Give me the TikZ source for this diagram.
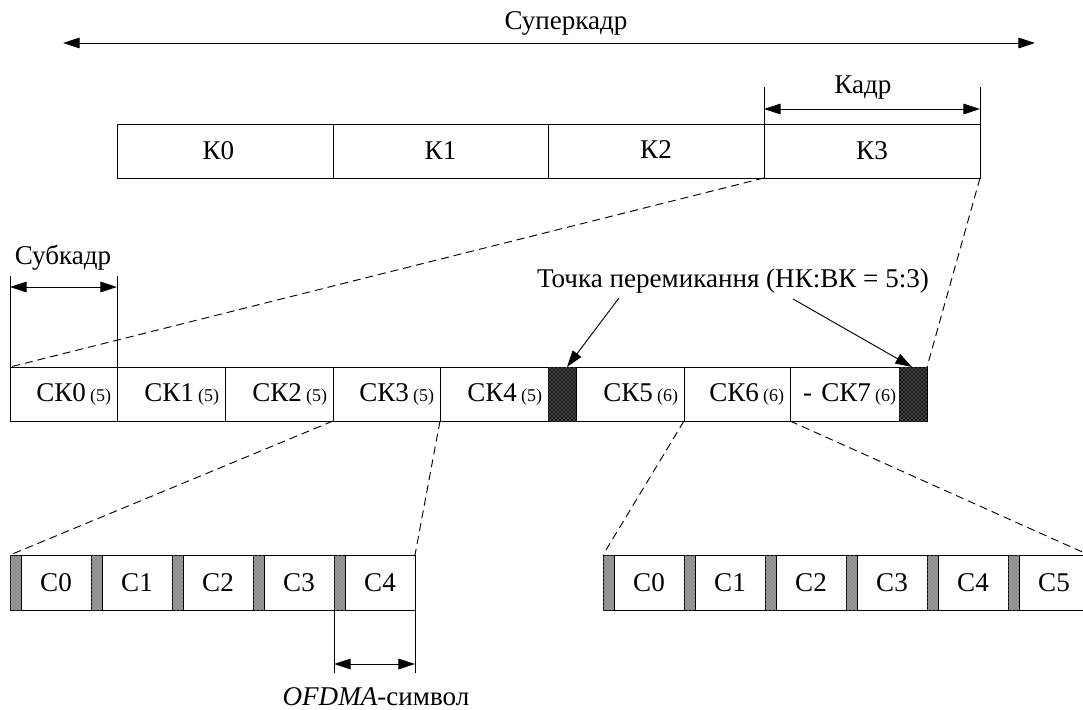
\documentclass[tikz,border=0pt]{standalone}
\usepackage{fontspec}
\setmainfont{Liberation Serif}
\usetikzlibrary{arrows.meta,patterns}
\tikzset{
  lw/.style={line width=0.7pt},
  mainfont/.style={font=\fontsize{20.3}{23}\selectfont},
  cell/.style={draw, line width=0.7pt, inner sep=0pt, outer sep=0pt, anchor=north west, mainfont},
  skcell/.style={cell, minimum height=40.5pt, inner xsep=4.5pt, text width=#1, align=right},
  dk/.style={cell, fill=black!90, postaction={pattern=crosshatch dots, pattern color=white!85!black}},
  lt/.style={cell, fill=black!45, postaction={pattern=crosshatch dots, pattern color=black!20}},
  dim/.style={line width=0.7pt, {Triangle[length=12.5pt,width=8pt]}-{Triangle[length=12.5pt,width=8pt]}},
  ptr/.style={line width=0.7pt, -{Triangle[length=12.5pt,width=8pt]}},
  dsh/.style={line width=0.7pt, dash pattern=on 6pt off 3.75pt},
  lbl/.style={inner sep=0pt, mainfont},
}
\newcommand{\sm}[1]{\hspace{3pt}{\fontsize{13.5}{15}\selectfont#1}}
\begin{document}
\begin{tikzpicture}[x=0.75pt, y=-0.75pt]
\useasboundingbox (0,0) rectangle (1083,710);
\clip (0,0) rectangle (1083,710);

% Superframe
\coordinate (sfL) at (63,43);
\coordinate (sfR) at (1035,43);
\draw[dim] (sfL) -- (sfR);
\node[lbl] (sf) at (566,23) {Суперкадр};

% Frames
\node[cell, minimum width=162pt, minimum height=40.5pt] (k0) at (117,124) {К0\hspace*{10pt}};
\node[cell, minimum width=161.25pt, minimum height=40.5pt] (k1) at (333,124) {К1};
\node[cell, minimum width=162pt, minimum height=40.5pt] (k2) at (548,124) {\raisebox{1.5pt}{К2}};
\node[cell, minimum width=162pt, minimum height=40.5pt] (k3) at (764,124) {К3};

% Frame dimension
\coordinate (kt1) at (764,87);
\coordinate (kt2) at (980,87);
\coordinate (ka1) at (764,109);
\coordinate (ka2) at (980,109);
\draw[lw] (k3.north west) -- (kt1);
\draw[lw] (k3.north east) -- (kt2);
\draw[dim] (ka1) -- (ka2);
\node[lbl] (kadr) at (863,88) {Кадр};

% Subframes
\node[skcell=71.25pt] (sk0) at (10,367) {СК0\sm{(5)}};
\node[skcell=72pt] (sk1) at (117,367) {СК1\sm{(5)}};
\node[skcell=72pt] (sk2) at (225,367) {СК2\sm{(5)}};
\node[skcell=71.25pt] (sk3) at (333,367) {СК3\sm{(5)}};
\node[skcell=72pt] (sk4) at (440,367) {СК4\sm{(5)}};
\node[dk, minimum width=21pt, minimum height=40.5pt] (d1) at (548,367) {};
\node[skcell=72pt] (sk5) at (576,367) {СК5\sm{(6)}};
\node[skcell=70.5pt] (sk6) at (684,367) {СК6\sm{(6)}};
\node[skcell=77.25pt, inner xsep=2.25pt] (sk7) at (790,367) {-\hspace{7pt}СК7\sm{(6)}};
\node[dk, minimum width=21pt, minimum height=40.5pt] (d2) at (899,367) {};

% Subframe dimension
\coordinate (st1) at (10,276);
\coordinate (st2) at (117,276);
\coordinate (sa1) at (10,287);
\coordinate (sa2) at (117,287);
\draw[lw] (sk0.north west) -- (st1);
\draw[lw] (sk0.north east) -- (st2);
\draw[dim] (sa1) -- (sa2);
\node[lbl] (subk) at (63,258) {Субкадр};

% Switching point
\node[lbl] (sw) at (733,281) {Точка перемикання (НК:ВК = 5:3)};
\coordinate (sw1) at (619,298);
\coordinate (sw2) at (793,299);
\coordinate (tip1) at (567,367);
\coordinate (tip2) at (912,367);
\draw[ptr] (sw1) -- (tip1);
\draw[ptr] (sw2) -- (tip2);

% Symbols, left
\foreach \i in {0,...,4}{
  \node[lt, minimum width=8.25pt, minimum height=41.25pt] (bld\i) at ({10+81*\i},555) {};
  \node[cell, minimum width=52.5pt, minimum height=41.25pt] (blc\i) at ({21+81*\i},555) {С\i};
}
% Symbols, right
\foreach \i in {0,...,5}{
  \node[lt, minimum width=8.25pt, minimum height=41.25pt] (brd\i) at ({603+81*\i},555) {};
  \node[cell, minimum width=52.5pt, minimum height=41.25pt] (brc\i) at ({614+81*\i},555) {С\i};
}

% Zoom lines
\draw[dsh] (k3.south west) -- (sk0.north west);
\draw[dsh] (k3.south east) -- (d2.north east);
\draw[dsh] (sk3.south west) -- (bld0.north west);
\draw[dsh] (sk3.south east) -- (blc4.north east);
\draw[dsh] (sk6.south west) -- (brd0.north west);
\draw[dsh] (sk6.south east) -- (brc5.north east);

% OFDMA symbol dimension
\coordinate (ot1) at (334,673);
\coordinate (ot2) at (415,673);
\coordinate (oa1) at (334,664);
\coordinate (oa2) at (415,664);
\draw[lw] (bld4.south west) -- (ot1);
\draw[lw] (blc4.south east) -- (ot2);
\draw[dim] (oa1) -- (oa2);
\node[lbl] (ofdma) at (376,697) {\textit{OFDMA}-символ};
\end{tikzpicture}
\end{document}
